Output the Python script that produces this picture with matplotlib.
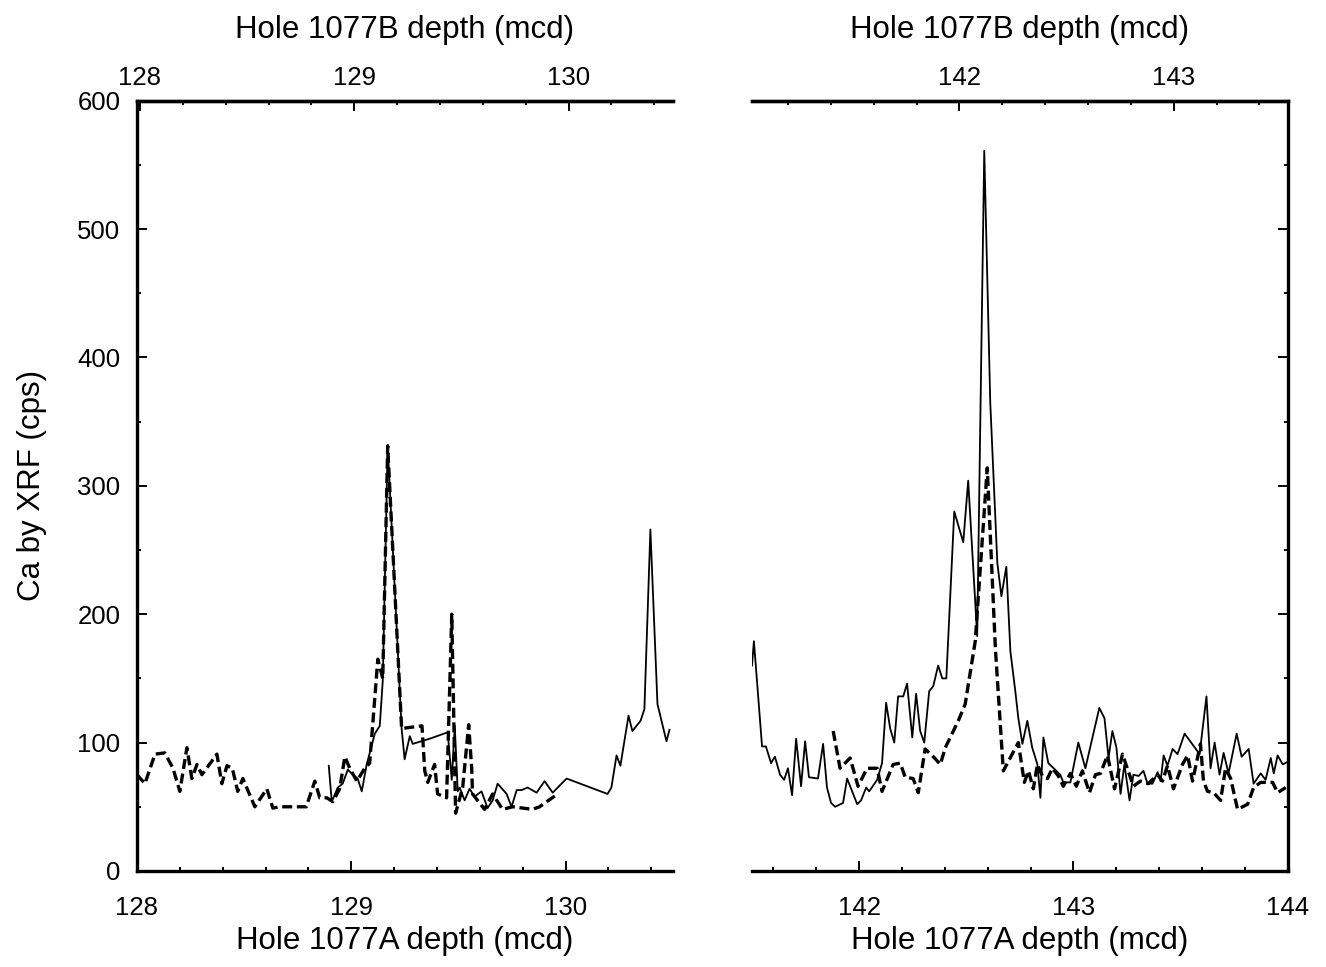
import matplotlib
matplotlib.use("Agg")
import matplotlib.pyplot as plt
from matplotlib.ticker import MultipleLocator
import numpy as np

plt.rcParams['font.family'] = ['Liberation Sans', 'DejaVu Sans']

# left panel (Hole 1077A depth, mcd) -- solid line
left_solid_x = [128.895, 128.909, 128.937, 128.960, 128.984, 129.007, 129.030, 129.049,
                129.072, 129.110, 129.133, 129.147, 129.170, 129.235, 129.249, 129.273,
                129.287, 129.366, 129.450, 129.469, 129.483, 129.497, 129.506, 129.529,
                129.552, 129.576, 129.608, 129.636, 129.660, 129.683, 129.725, 129.748,
                129.772, 129.795, 129.823, 129.865, 129.902, 129.940, 130.005, 130.196,
                130.214, 130.238, 130.256, 130.294, 130.312, 130.350, 130.368, 130.396,
                130.429, 130.471, 130.485]
left_solid_y = [82, 54, 65, 68, 79, 75, 72, 62,
                83, 107, 113, 148, 332, 111, 87, 105,
                99, 103, 108, 71, 113, 62, 65, 55,
                64, 58, 62, 49, 55, 68, 60, 50,
                63, 63, 65, 61, 70, 61, 72, 60,
                65, 90, 82, 121, 109, 117, 126, 266,
                130, 101, 110]

# left panel -- dashed line
left_dash_x = [128.000, 128.037, 128.084, 128.130, 128.168, 128.200, 128.233, 128.256,
               128.280, 128.303, 128.373, 128.396, 128.420, 128.445, 128.470, 128.494,
               128.550, 128.606, 128.634, 128.667, 128.790, 128.830, 128.853, 128.886,
               128.914, 128.946, 128.970, 128.993, 129.026, 129.063, 129.086, 129.124,
               129.147, 129.170, 129.235, 129.330, 129.343, 129.357, 129.389, 129.403,
               129.445, 129.469, 129.487, 129.520, 129.548, 129.562, 129.566, 129.622,
               129.660, 129.706, 129.753, 129.846, 129.879, 129.963]
left_dash_y = [75, 68, 91, 92, 80, 62, 96, 72,
               83, 75, 91, 68, 82, 80, 62, 72,
               50, 64, 49, 50, 50, 70, 57, 57,
               54, 64, 89, 80, 70, 80, 84, 165,
               150, 331, 111, 113, 78, 69, 83, 60,
               57, 200, 45, 65, 114, 80, 60, 48,
               60, 48, 50, 48, 50, 60]

# right panel -- solid line
right_solid_x = [141.500, 141.509, 141.547, 141.565, 141.589, 141.607, 141.631, 141.650,
                 141.668, 141.687, 141.706, 141.729, 141.748, 141.766, 141.808, 141.832,
                 141.850, 141.869, 141.888, 141.925, 141.944, 141.991, 142.009, 142.033,
                 142.047, 142.084, 142.107, 142.126, 142.145, 142.164, 142.182, 142.206,
                 142.224, 142.248, 142.266, 142.285, 142.304, 142.327, 142.346, 142.369,
                 142.388, 142.407, 142.444, 142.486, 142.509, 142.551, 142.584, 142.612,
                 142.645, 142.664, 142.687, 142.706, 142.729, 142.743, 142.762, 142.785,
                 142.808, 142.832, 142.846, 142.860, 142.883, 142.939, 142.953, 142.986,
                 143.023, 143.056, 143.089, 143.121, 143.145, 143.164, 143.182, 143.201,
                 143.220, 143.238, 143.262, 143.280, 143.304, 143.327, 143.346, 143.369,
                 143.393, 143.407, 143.421, 143.439, 143.463, 143.486, 143.519, 143.589,
                 143.621, 143.640, 143.659, 143.682, 143.701, 143.724, 143.762, 143.785,
                 143.818, 143.841, 143.874, 143.897, 143.921, 143.935, 143.953, 143.977,
                 144.000]
right_solid_y = [160, 179, 97, 97, 84, 89, 75, 71,
                 80, 59, 103, 66, 101, 73, 72, 99,
                 65, 53, 50, 53, 72, 52, 55, 65,
                 62, 71, 84, 131, 111, 100, 136, 136,
                 146, 104, 138, 109, 100, 140, 144, 160,
                 150, 150, 280, 256, 304, 183, 561, 365,
                 240, 214, 237, 171, 140, 119, 99, 117,
                 96, 83, 57, 104, 84, 75, 69, 69,
                 100, 80, 104, 127, 119, 88, 109, 96,
                 60, 83, 55, 75, 74, 78, 68, 68,
                 77, 70, 90, 82, 95, 91, 107, 91,
                 136, 80, 100, 75, 92, 76, 107, 89,
                 95, 68, 76, 71, 88, 76, 90, 83,
                 85]

# right panel -- dashed line
right_dash_x = [141.879, 141.911, 141.958, 141.995, 142.037, 142.084, 142.107, 142.159,
                142.192, 142.215, 142.252, 142.276, 142.308, 142.341, 142.379, 142.402,
                142.463, 142.495, 142.542, 142.598, 142.636, 142.673, 142.743, 142.771,
                142.790, 142.813, 142.832, 142.855, 142.879, 142.902, 142.930, 142.953,
                142.986, 143.014, 143.042, 143.075, 143.103, 143.126, 143.159, 143.192,
                143.229, 143.280, 143.313, 143.350, 143.393, 143.416, 143.439, 143.467,
                143.509, 143.533, 143.556, 143.593, 143.607, 143.626, 143.654, 143.687,
                143.710, 143.734, 143.766, 143.813, 143.841, 143.874, 143.930, 143.953,
                143.991]
right_dash_y = [109, 80, 88, 66, 80, 80, 62, 83,
                84, 73, 72, 61, 95, 90, 83, 96,
                117, 130, 179, 314, 173, 78, 100, 69,
                78, 64, 83, 74, 72, 80, 74, 66,
                76, 66, 78, 61, 75, 76, 90, 64,
                91, 66, 70, 68, 75, 70, 82, 64,
                83, 90, 70, 99, 70, 62, 61, 55,
                80, 72, 48, 52, 65, 69, 69, 61,
                65]

# depth offsets between holes (1077B = 1077A - offset)
left_offset = 0.014
right_offset = 0.468

fig = plt.figure(figsize=(13.26, 9.67), dpi=100)
axL = fig.add_axes([0.1033, 0.0993, 0.4040, 0.7966])
axR = fig.add_axes([0.5671, 0.0993, 0.4040, 0.7966])

tick_fs = 18.5
label_fs = 22.5

for ax, xs, ys, xd, yd, xlim in [
        (axL, left_solid_x, left_solid_y, left_dash_x, left_dash_y, (128, 130.5)),
        (axR, right_solid_x, right_solid_y, right_dash_x, right_dash_y, (141.5, 144))]:
    ax.plot(xd, yd, color='black', lw=2.4, ls=(0, (3, 1.4)))
    ax.plot(xs, ys, color='black', lw=1.3)
    ax.set_xlim(*xlim)
    ax.set_ylim(0, 600)
    ax.xaxis.set_major_locator(MultipleLocator(1))
    ax.xaxis.set_minor_locator(MultipleLocator(0.2))
    ax.yaxis.set_major_locator(MultipleLocator(100))
    ax.yaxis.set_minor_locator(MultipleLocator(50))
    for s in ax.spines.values():
        s.set_linewidth(2.4)
    ax.tick_params(which='both', direction='in', labelsize=tick_fs, width=1.4)
    ax.tick_params(which='major', length=7)
    ax.tick_params(which='minor', length=3)
    ax.tick_params(axis='x', pad=18)
    ax.set_xlabel('Hole 1077A depth (mcd)', fontsize=label_fs, labelpad=4)

axL.spines['right'].set_visible(False)
axL.tick_params(axis='y', which='both', right=False, pad=12)
axL.set_ylabel('Ca by XRF (cps)', fontsize=label_fs, labelpad=22)

axR.spines['left'].set_visible(False)
axR.tick_params(axis='y', which='both', left=False, right=True, labelleft=False)

# top axes: Hole 1077B depth
for ax, off in [(axL, left_offset), (axR, right_offset)]:
    top = ax.twiny()
    lo, hi = ax.get_xlim()
    top.set_xlim(lo - off, hi - off)
    top.xaxis.set_major_locator(MultipleLocator(1))
    top.xaxis.set_minor_locator(MultipleLocator(0.2))
    for s in top.spines.values():
        s.set_visible(False)
    top.spines['top'].set_visible(True)
    top.spines['top'].set_linewidth(2.4)
    top.tick_params(which='both', direction='in', labelsize=tick_fs, width=1.4, pad=8)
    top.tick_params(which='major', length=7)
    top.tick_params(which='minor', length=3)
    top.set_xlabel('Hole 1077B depth (mcd)', fontsize=label_fs, labelpad=20)

fig.savefig('out.png', dpi=100)
